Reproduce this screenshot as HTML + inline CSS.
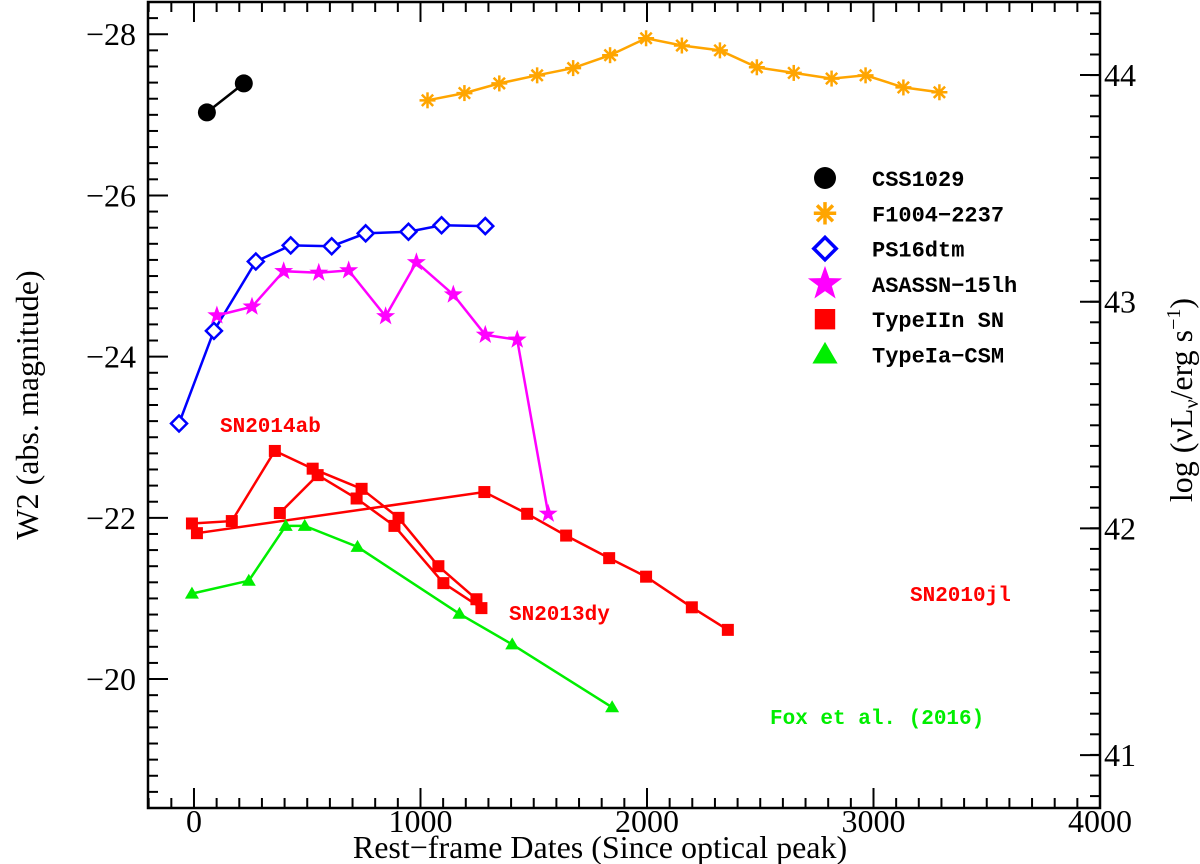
<!DOCTYPE html>
<html><head><meta charset="utf-8">
<style>
html,body{margin:0;padding:0;background:#fff;}
svg{display:block;}
.tk{font-family:"Liberation Serif",serif;font-size:32px;fill:#000;}
.lg{font-family:"Liberation Mono",monospace;font-size:22px;font-weight:bold;fill:#000;}
.an{font-family:"Liberation Mono",monospace;font-size:21px;font-weight:bold;}
</style></head>
<body>
<svg id="chart" width="1200" height="864" xmlns="http://www.w3.org/2000/svg"></svg>
<script>
const xTicks=[0,1000,2000,3000,4000];
const yTicks=[-28,-26,-24,-22,-20];
const rTicks=[44,43,42,41];
const cssDays=[57,220];
const cssMag=[-27.03,-27.39];
const fDays=[1031,1194,1348,1515,1674,1837,1996,2154,2322,2485,2648,2815,2965,3132,3291];
const fMag=[-27.18,-27.27,-27.39,-27.49,-27.58,-27.74,-27.95,-27.86,-27.80,-27.59,-27.52,-27.45,-27.49,-27.34,-27.28];
const psDays=[-66,88,273,427,608,758,947,1093,1286];
const psMag=[-23.17,-24.32,-25.18,-25.38,-25.37,-25.53,-25.55,-25.63,-25.62];
const asDays=[101,256,396,551,683,846,982,1145,1286,1427,1564];
const asMag=[-24.51,-24.62,-25.06,-25.04,-25.07,-24.50,-25.17,-24.77,-24.27,-24.21,-22.05];
const ab14Days=[-9,167,357,524,740,903,1079,1247];
const ab14Mag=[-21.93,-21.96,-22.83,-22.61,-22.36,-22.00,-21.40,-20.99];
const dy13Days=[379,546,718,885,1101,1269];
const dy13Mag=[-22.06,-22.53,-22.24,-21.90,-21.19,-20.88];
const jl10Days=[13,1282,1471,1643,1833,1996,2198,2357];
const jl10Mag=[-21.81,-22.32,-22.05,-21.78,-21.50,-21.27,-20.89,-20.61];
const iaDays=[-9,242,405,489,722,1172,1405,1846];
const iaMag=[-21.06,-21.22,-21.90,-21.90,-21.64,-20.81,-20.43,-19.65];

const L=148,R=1100,T=2,B=808;
const X0=-203,X1=4000,Y0=-28.4,Y1=-18.4;
const sx=d=>L+(d-X0)/(X1-X0)*(R-L);
const sy=m=>T+(m-Y0)/(Y1-Y0)*(B-T);
const sr=l=>75+(44-l)*226.7;
const svg=document.getElementById('chart');
const NS='http://www.w3.org/2000/svg';
function el(tag,attrs,parent){const e=document.createElementNS(NS,tag);for(const k in attrs)e.setAttribute(k,attrs[k]);(parent||svg).appendChild(e);return e;}

const frame=el('rect',{x:L,y:T,width:R-L,height:B-T,fill:'none',stroke:'#000','stroke-width':2.5});


const gx=el('g',{stroke:'#000','stroke-width':2});


for(let d=-200;d<=4000;d+=100){const x=sx(d);const len=(d%1000===0)?20:10;
 el('line',{x1:x,y1:B,x2:x,y2:B-len},gx);el('line',{x1:x,y1:T,x2:x,y2:T+len},gx);}
xTicks.forEach(v=>{const t=el('text',{x:sx(v),y:832,'text-anchor':'middle',class:'tk'});t.textContent=v;
 
 });
const gy=el('g',{stroke:'#000','stroke-width':2});


for(let k=0;k<=50;k++){const m=-28.4+k*0.2;const y=sy(m);if(y<T||y>B)continue;const maj=Math.abs(Math.round(m)-m)<0.01&&Math.round(m)%2===0;
 el('line',{x1:L,y1:y,x2:L+(maj?20:10),y2:y},gy);}
yTicks.forEach(v=>{const t=el('text',{x:136,y:sy(v)+11,'text-anchor':'end',class:'tk'});t.textContent='\u2212'+Math.abs(v);
 
 });
const gr=el('g',{stroke:'#000','stroke-width':2});


for(let k=-20;k<=40;k++){const y=sr(43)+k*20.6;if(y<T||y>B)continue;el('line',{x1:R,y1:y,x2:R-10,y2:y},gr);}
rTicks.forEach(v=>{const y=sr(v);el('line',{x1:R,y1:y,x2:R-20,y2:y},gr);
 const t=el('text',{x:1104,y:y+11,class:'tk'});t.textContent=v;
 
 });

let t=el('text',{x:600,y:858,'text-anchor':'middle',class:'tk'});t.textContent='Rest\u2212frame Dates (Since optical peak)';


t=el('text',{x:0,y:0,'text-anchor':'middle',class:'tk',transform:'translate(38,405) rotate(-90)'});t.textContent='W2 (abs. magnitude)';


t=el('text',{x:0,y:0,'text-anchor':'middle',class:'tk',transform:'translate(1192,400) rotate(-90)'});
t.innerHTML='log (\u03bdL<tspan font-size="20" dy="6">\u03bd</tspan><tspan dy="-6">/erg s</tspan><tspan font-size="20" dy="-12">\u22121</tspan><tspan dy="12">)</tspan>';



function marker(kind,x,y,c,g){
 if(kind==='circle')return el('circle',{cx:x,cy:y,r:9,fill:c},g);
 if(kind==='square')return el('rect',{x:x-6,y:y-6,width:12,height:12,fill:c},g);
 if(kind==='tri')return el('polygon',{points:`${x},${y-7} ${x-7},${y+5} ${x+7},${y+5}`,fill:c},g);
 if(kind==='diamond')return el('polygon',{points:`${x},${y-8} ${x+8},${y} ${x},${y+8} ${x-8},${y}`,fill:'#fff',stroke:c,'stroke-width':2.5},g);
 if(kind==='star'){let p=[];for(let i=0;i<10;i++){const r=i%2?4:10;const a=-Math.PI/2+i*Math.PI/5;p.push((x+r*Math.cos(a)).toFixed(1)+','+(y+r*Math.sin(a)).toFixed(1));}
  return el('polygon',{points:p.join(' '),fill:c},g);}
 if(kind==='ast'){const s=el('g',{stroke:c,'stroke-width':2.5},g);for(let i=0;i<4;i++){const a=i*Math.PI/4;const dx=8*Math.cos(a),dy=8*Math.sin(a);el('line',{x1:x-dx,y1:y-dy,x2:x+dx,y2:y+dy},s);}return s;}
}
function series(name,days,mags,kind,c){
 const g=el('g',{});
 
 
 const pts=days.map((d,i)=>sx(d).toFixed(1)+','+sy(mags[i]).toFixed(1)).join(' ');
 el('polyline',{points:pts,fill:'none',stroke:c,'stroke-width':2.5},g);
 days.forEach((d,i)=>marker(kind,sx(d),sy(mags[i]),c,g));
}
series('series-sn2010jl',jl10Days,jl10Mag,'square','#ff0000');
series('series-sn2014ab',ab14Days,ab14Mag,'square','#ff0000');
series('series-sn2013dy',dy13Days,dy13Mag,'square','#ff0000');
series('series-typeia-csm',iaDays,iaMag,'tri','#00ee00');
series('series-ps16dtm',psDays,psMag,'diamond','#0000ff');
series('series-asassn-15lh',asDays,asMag,'star','#ff00ff');
series('series-css1029',cssDays,cssMag,'circle','#000');
series('series-f1004-2237',fDays,fMag,'ast','#ffa500');

const legend=[['circle','#000','CSS1029'],['ast','#ffa500','F1004\u22122237'],['diamond','#0000ff','PS16dtm'],['star','#ff00ff','ASASSN\u221215lh'],['square','#ff0000','TypeIIn SN'],['tri','#00ee00','TypeIa\u2212CSM']];
const lg=el('g',{});


legend.forEach((e,i)=>{const y=178+i*35.3;const g=el('g',{},lg);
 
 
 const m=marker(e[0],825,y,e[1],g);
 if(e[0]==='circle')m.setAttribute('r',11);
 if(e[0]==='square')m.setAttribute('transform','translate(825,'+y+') scale(1.7) translate(-825,'+(-y)+')');
 if(e[0]==='tri'||e[0]==='star')m.setAttribute('transform','translate(825,'+y+') scale(1.8) translate(-825,'+(-y)+')');
 if(e[0]==='ast'||e[0]==='diamond')m.setAttribute('transform','translate(825,'+y+') scale(1.4) translate(-825,'+(-y)+')');
 const tx=el('text',{x:872,y:y+8,class:'lg'},g);tx.textContent=e[2];});

[['SN2014ab',220,432,'#ff0000'],['SN2013dy',509,620,'#ff0000'],['SN2010jl',910,601,'#ff0000'],['Fox et al. (2016)',770,724,'#00ee00']].forEach(a=>{
 const tt=el('text',{x:a[1],y:a[2],class:'an',fill:a[3]});tt.textContent=a[0];
 
 });
</script>
</body></html>
